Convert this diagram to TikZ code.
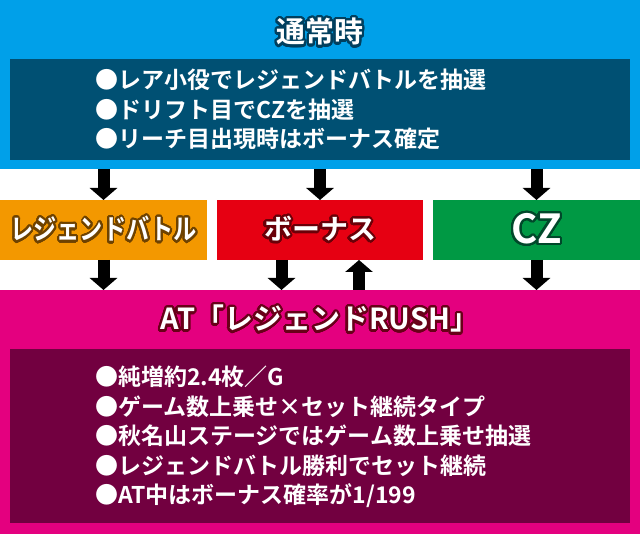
\documentclass[tikz,border=0pt]{standalone}
\usepackage{fontspec}
\setmainfont{Noto Sans CJK JP}[BoldFont={Noto Sans CJK JP Bold}]
\usepackage{contour}
\usetikzlibrary{arrows.meta,calc}
\definecolor{normalblue}{HTML}{00A0E9}
\definecolor{normaldark}{HTML}{005073}
\definecolor{normalline}{HTML}{003F5E}
\definecolor{battleorange}{HTML}{F39800}
\definecolor{battleline}{HTML}{6E4200}
\definecolor{bonusred}{HTML}{E60012}
\definecolor{bonusline}{HTML}{6A0008}
\definecolor{czgreen}{HTML}{009944}
\definecolor{czline}{HTML}{00482A}
\definecolor{atpink}{HTML}{E4007F}
\definecolor{atdark}{HTML}{720040}
\definecolor{atline}{HTML}{680018}
\contourlength{2.2pt}
\contournumber{40}
\tikzset{
  band/.style = {inner sep=0pt, outer sep=0pt},
  headline/.style = {text=white, font=\bfseries\fontsize{29}{29}\selectfont},
  boxlabel/.style = {text=white, font=\bfseries\fontsize{28}{28}\selectfont},
  bullets/.style = {text=white, align=left, anchor=west, inner sep=0pt,
    font=\bfseries\fontsize{23}{29.6}\selectfont},
  fatarrow/.style = {-{Triangle[width=27pt,length=12pt]}, line width=12pt, black}
}
\begin{document}
\begin{tikzpicture}[x=1pt, y=-1pt]
    \useasboundingbox (0,0) rectangle (640,534);
    % top: normal mode
    \node [band, fill=normalblue, minimum width=640pt, minimum height=169pt] (normal) at (320,84.5) {};
    \node [headline] (normaltitle) at (320,33) {\contour{normalline}{通常時}};
    \node [band, fill=normaldark, minimum width=620pt, minimum height=101pt] (normalbox) at (320,109.5) {};
    \node [bullets] (normaltext) at (95,109.5) {●レア小役でレジェンドバトルを抽選\\●ドリフト目でCZを抽選\\●リーチ目出現時はボーナス確定};
    % middle row
    \node [band, fill=battleorange, minimum width=207pt, minimum height=60pt] (battle) at (103.5,230) {};
    \node [boxlabel] (battletext) at (battle.center) {\scalebox{0.83}[1]{\contour{battleline}{レジェンドバトル}}};
    \node [band, fill=bonusred, minimum width=206pt, minimum height=60pt] (bonus) at (320,230) {};
    \node [boxlabel] (bonustext) at (bonus.center) {\contour{bonusline}{ボーナス}};
    \node [band, fill=czgreen, minimum width=207pt, minimum height=60pt] (cz) at (536.5,230) {};
    \node [boxlabel, font=\bfseries\fontsize{40}{40}\selectfont] (cztext) at (cz.center) {\contour{czline}{CZ}};
    % bottom: AT
    \node [band, fill=atpink, minimum width=640pt, minimum height=244pt] (at) at (320,412) {};
    \node [headline] (attitle) at (320,320) {\contour{atline}{AT「レジェンドRUSH」}};
    \node [band, fill=atdark, minimum width=620pt, minimum height=174pt] (atbox) at (320,436) {};
    \node [bullets] (attext) at (95,437) {●純増約2.4枚／G\\●ゲーム数上乗せ×セット継続タイプ\\●秋名山ステージではゲーム数上乗せ抽選\\●レジェンドバトル勝利でセット継続\\●AT中はボーナス確率が1/199};
    % arrows
    \draw [fatarrow] (normal.south -| battle.north) -- (battle.north);
    \draw [fatarrow] (normal.south -| bonus.north) -- (bonus.north);
    \draw [fatarrow] (normal.south -| cz.north) -- (cz.north);
    \draw [fatarrow] (battle.south) -- (battle.south |- at.north);
    \draw [fatarrow] ($(bonus.south)+(-38.5,0)$) -- ($(bonus.south |- at.north)+(-38.5,0)$);
    \draw [fatarrow] ($(bonus.south |- at.north)+(39,0)$) -- ($(bonus.south)+(39,0)$);
    \draw [fatarrow] (cz.south) -- (cz.south |- at.north);
\end{tikzpicture}
\end{document}
